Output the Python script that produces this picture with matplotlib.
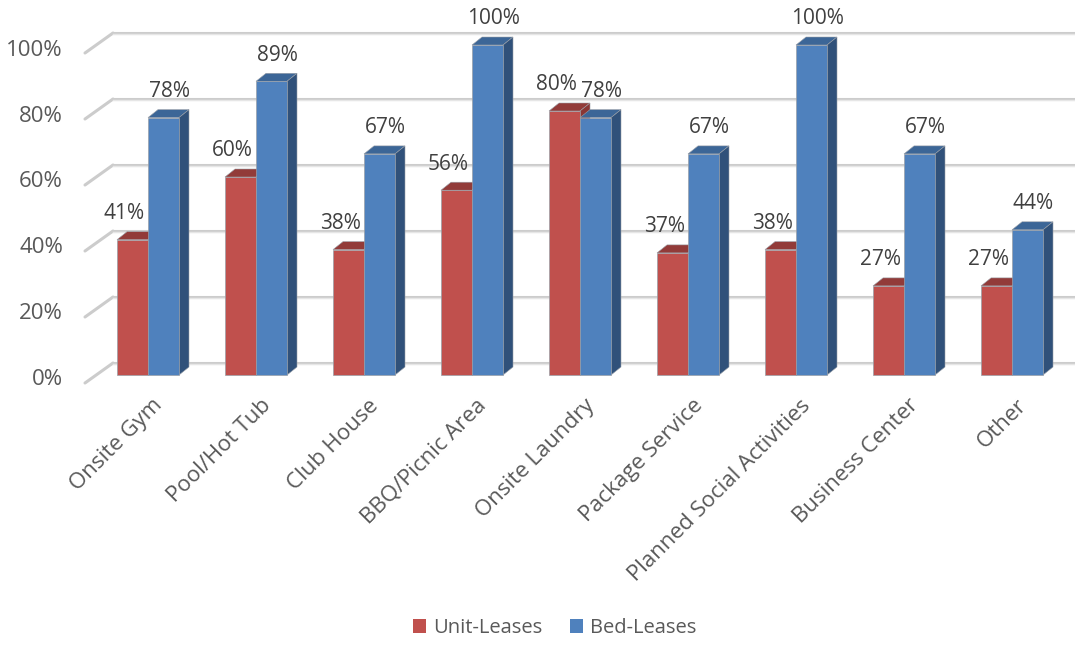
import matplotlib
matplotlib.use("Agg")
import matplotlib.pyplot as plt
from matplotlib.patches import Polygon, Patch

plt.rcParams['font.family'] = ['Open Sans', 'DejaVu Sans']

categories = ["Onsite Gym", "Pool/Hot Tub", "Club House", "BBQ/Picnic Area",
              "Onsite Laundry", "Package Service", "Planned Social Activities",
              "Business Center", "Other"]
unit_leases = [41, 60, 38, 56, 80, 37, 38, 27, 27]
bed_leases = [78, 89, 67, 100, 78, 67, 100, 67, 44]
series_names = ["Unit-Leases", "Bed-Leases"]
y_ticks = [0, 20, 40, 60, 80, 100]

# colours: front, top, side
red = ("#c0504d", "#923b39", "#8a3634")
blue = ("#4f81bd", "#3c6697", "#30517a")

W, H = 1075, 646
fig = plt.figure(figsize=(W / 100, H / 100), dpi=100)
ax = fig.add_axes([0, 0, 1, 1])

# pixel scale: one category = 108 px, one percent = 3.3 px
px_x = 108.0
px_y = 3.3
x0, y0 = 148.0, 375.0  # first cluster centre / zero line (pixels from top-left)
ax.set_xlim(-x0 / px_x, (W - x0) / px_x)
ax.set_ylim((y0 - H) / px_y, y0 / px_y)
ax.axis('off')

bw = 31 / px_x          # single bar width
ddx = 10 / px_x         # bar depth
ddy = 8 / px_y

# back wall gridlines with the floor diagonals
fx, fy = -63 / px_x, -8 / px_y
bx, by = -35 / px_x, 12 / px_y
xr = ax.get_xlim()[1]
for v in y_ticks:
    ax.plot([fx, bx], [v + fy, v + by], color="#cccccc", lw=2.2, solid_capstyle='round', zorder=1)
    ax.plot([bx, xr], [v + by, v + by], color="#cccccc", lw=2.2, zorder=1)
    ax.plot([bx, xr], [v + by - 0.3, v + by - 0.3], color="#e6e6e6", lw=1, zorder=1)
    ax.text(-85 / px_x, v - 5 / px_y, f"{v}%", ha='right', va='center',
            fontsize=16, color="#595959")


def bar3d(xl, v, cols, z):
    front, top, side = cols
    ax.bar(xl, v, width=bw, align='edge', color=front, edgecolor="#9aa0a8",
           linewidth=0.5, zorder=z + 0.2)
    ax.add_patch(Polygon([(xl, v), (xl + bw, v), (xl + bw + ddx, v + ddy), (xl + ddx, v + ddy)],
                         closed=True, facecolor=top, edgecolor="#9aa0a8", lw=0.4, zorder=z))
    ax.add_patch(Polygon([(xl + bw, 0), (xl + bw + ddx, ddy), (xl + bw + ddx, v + ddy), (xl + bw, v)],
                         closed=True, facecolor=side, edgecolor="#9aa0a8", lw=0.4, zorder=z))


for i, (u, b) in enumerate(zip(unit_leases, bed_leases)):
    bar3d(i - bw, u, red, 2 + i)
    bar3d(i, b, blue, 2.5 + i)
    ax.text(i - bw / 2 - 8 / px_x, u + 26 / px_y, f"{u}%", ha='center', va='center',
            fontsize=15, color="#404040", zorder=30)
    ax.text(i + bw / 2 + 6 / px_x, b + 26 / px_y, f"{b}%", ha='center', va='center',
            fontsize=15, color="#404040", zorder=30)
    ax.text(i + 4 / px_x, -20 / px_y, categories[i], rotation=45, rotation_mode='anchor',
            ha='right', va='top', fontsize=16, color="#595959")

handles = [Patch(facecolor=red[0]), Patch(facecolor=blue[0])]
fig.legend(handles, series_names, loc='lower center', bbox_to_anchor=(0.516, -0.016),
           ncol=2, frameon=False, fontsize=14.5, handlelength=0.65, handleheight=0.65,
           handletextpad=0.35, columnspacing=1.4, labelcolor="#595959")

fig.savefig("out.png", dpi=100)
